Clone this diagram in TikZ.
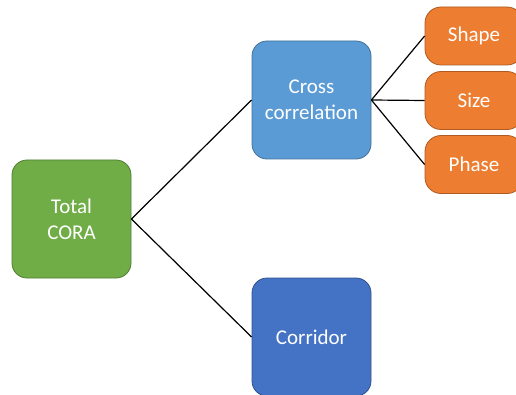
\documentclass[tikz,border=0pt]{standalone}
\usepackage{fontspec}
\setmainfont{Carlito}
\definecolor{cgreen}{HTML}{70AD47}
\definecolor{cgreenb}{HTML}{507E32}
\definecolor{clblue}{HTML}{5B9BD5}
\definecolor{clblueb}{HTML}{41719C}
\definecolor{cdblue}{HTML}{4472C4}
\definecolor{cdblueb}{HTML}{2F528F}
\definecolor{corange}{HTML}{ED7D31}
\definecolor{coranb}{HTML}{AE5A21}
\begin{document}
\begin{tikzpicture}[x=1pt,y=1pt,
  boxstyle/.style={rounded corners=15pt, minimum width=119pt, minimum height=118pt,
    text=white, align=center, font=\fontsize{21}{26}\selectfont, line width=0.8pt, inner sep=0pt},
  smallbox/.style={rounded corners=16pt, minimum width=98pt, minimum height=58pt,
    text=white, align=center, font=\fontsize{21}{26}\selectfont, line width=0.8pt, fill=corange, draw=coranb, inner sep=0pt},
  link/.style={line width=1.2pt, black}]
\useasboundingbox (0,0) rectangle (516,394);
\clip (0,0) rectangle (516,394);
\node[boxstyle, fill=cgreen, draw=cgreenb] (total) at (71.5,175) {Total\\CORA};
\node[boxstyle, fill=clblue, draw=clblueb] (cross) at (311.5,294) {Cross\\correlation};
\node[boxstyle, fill=cdblue, draw=cdblueb] (corr) at (311.5,57) {Corridor};
\node[smallbox, text width=98pt] (shape) at (474,358) {Shape};
\node[smallbox, text width=98pt] (size) at (474,293.5) {Size};
\node[smallbox, text width=98pt] (phase) at (474,229.5) {Phase};
\draw[link] (total.east) -- (cross.west);
\draw[link] (total.east) -- (corr.west);
\draw[link] (cross.east) -- (shape.west);
\draw[link] (cross.east) -- (size.west);
\draw[link] (cross.east) -- (phase.west);
\end{tikzpicture}
\end{document}
